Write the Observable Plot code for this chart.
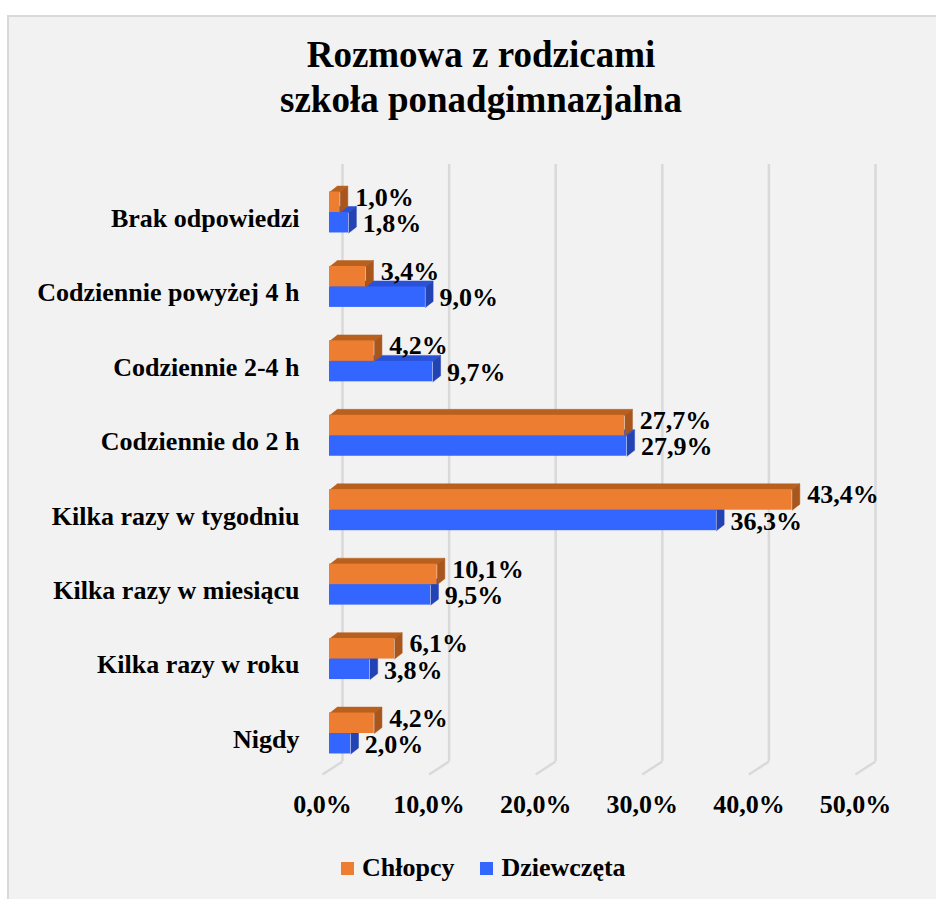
<!DOCTYPE html>
<html>
<head>
<meta charset="utf-8">
<script src="https://cdn.jsdelivr.net/npm/d3@7"></script>
<script src="https://cdn.jsdelivr.net/npm/@observablehq/plot@0.6"></script>
<style>
  html, body { margin: 0; padding: 0; background: #ffffff; }
  body { width: 936px; height: 899px; position: relative; overflow: hidden;
         font-family: "Liberation Serif", "Times New Roman", serif; }
  #panel { position: absolute; left: 7px; top: 15px; width: 940px; height: 900px;
           background: #f2f2f2; border-left: 2px solid #d9d9d9; border-top: 2px solid #d9d9d9; box-sizing: border-box; }
  #title { position: absolute; left: 26px; width: 910px; top: 32px; text-align: center;
           font-size: 37px; line-height: 45px; font-weight: bold; color: #000; }
  #chart { position: absolute; left: 0; top: 130px; }
  #legend { position: absolute; left: 341px; top: 850px; display: flex; align-items: center;
            font-size: 26px; font-weight: bold; color: #000; height: 36px; }
  .sw { display: inline-block; width: 13px; height: 13px; margin-right: 8px; }
  .item { display: flex; align-items: center; margin-right: 26px; }
</style>
</head>
<body>
<div id="panel"></div>
<div id="title">Rozmowa z rodzicami<br>szkoła ponadgimnazjalna</div>
<div id="chart"></div>
<div id="legend"></div>
<script>
// ---- data ----
const categories = ["Brak odpowiedzi", "Codziennie powyżej 4 h", "Codziennie 2-4 h", "Codziennie do 2 h",
                    "Kilka razy w tygodniu", "Kilka razy w miesiącu", "Kilka razy w roku", "Nigdy"];
const chlopcy    = [1.0, 3.4, 4.2, 27.7, 43.4, 10.1, 6.1, 4.2];
const dziewczeta = [1.8, 9.0, 9.7, 27.9, 36.3, 9.5, 3.8, 2.0];
const xTicks = [0, 10, 20, 30, 40, 50];
const seriesNames = ["Chłopcy", "Dziewczęta"];
const seriesColors = {
  "Chłopcy":    {front: "#ED7D31", top: "#B9601F", side: "#A9561C"},
  "Dziewczęta": {front: "#3366FF", top: "#2A52D9", side: "#2343B5"}
};

// ---- 3D geometry (data units) ----
const H = 0.275;      // bar thickness (category units)
const DX = 0.72;      // bar depth along x (percent units)
const DY = 0.08;      // bar depth along y (category units)
const WALL_DX = 1.22, FLOOR_DX = -0.66;
const WALL_TOP = -0.645, WALL_BOTTOM = 7.376, FLOOR_FRONT = 7.55;

const fmt = v => v.toFixed(1).replace(".", ",") + "%";

// bars: blue (lower) first, orange (upper) drawn over it
const bars = [];
categories.forEach((c, i) => {
  bars.push({i, s: "Dziewczęta", v: dziewczeta[i], y1: i, y2: i + H});
});
categories.forEach((c, i) => {
  bars.push({i, s: "Chłopcy", v: chlopcy[i], y1: i - H, y2: i});
});

function topPoly(b, k) {
  return [
    {id: k, x: 0, y: b.y1}, {id: k, x: b.v, y: b.y1},
    {id: k, x: b.v + DX, y: b.y1 - DY}, {id: k, x: DX, y: b.y1 - DY}
  ];
}
function sidePoly(b, k) {
  return [
    {id: k, x: b.v, y: b.y1}, {id: k, x: b.v + DX, y: b.y1 - DY},
    {id: k, x: b.v + DX, y: b.y2 - DY}, {id: k, x: b.v, y: b.y2}
  ];
}

const marks = [];
// back wall gridlines + floor slant
marks.push(Plot.ruleX(xTicks, {x: d => d + WALL_DX, y1: WALL_TOP, y2: WALL_BOTTOM, stroke: "#d9d9d9", strokeWidth: 2.5}));
marks.push(Plot.link(xTicks, {x1: d => d + WALL_DX, y1: WALL_BOTTOM, x2: d => d + FLOOR_DX, y2: FLOOR_FRONT, stroke: "#d9d9d9", strokeWidth: 2.5}));

for (const s of ["Dziewczęta", "Chłopcy"]) {
  const bs = bars.filter(b => b.s === s);
  const col = seriesColors[s];
  marks.push(Plot.line(bs.flatMap((b, k) => topPoly(b, k)), {x: "x", y: "y", z: "id", fill: col.top, stroke: col.top, strokeWidth: 0.5}));
  marks.push(Plot.rect(bs, {x1: 0, x2: "v", y1: "y1", y2: "y2", fill: col.front}));
  marks.push(Plot.line(bs.flatMap((b, k) => sidePoly(b, k)), {x: "x", y: "y", z: "id", fill: col.side, stroke: col.side, strokeWidth: 0.5}));
}

// value labels
marks.push(Plot.text(bars.filter(b => b.s === "Dziewczęta"), {
  x: "v", y: b => (b.y1 + b.y2) / 2, text: b => fmt(b.v), textAnchor: "start", dx: 14, dy: 1,
  fontSize: 26, fontWeight: "bold", fill: "#000"
}));
marks.push(Plot.text(bars.filter(b => b.s === "Chłopcy"), {
  x: "v", y: b => (b.y1 + b.y2) / 2, text: b => fmt(b.v), textAnchor: "start", dx: 15, dy: -5,
  fontSize: 26, fontWeight: "bold", fill: "#000"
}));

// axes
marks.push(Plot.axisY({ticks: categories.map((_, i) => i), tickFormat: i => categories[i],
  tickSize: 0, tickPadding: 2, dy: 6, fontSize: 26, fontWeight: "bold", label: null, anchor: "left"}));
marks.push(Plot.axisX({ticks: xTicks, tickFormat: fmt, tickSize: 0, tickPadding: 0, dx: -7,
  fontSize: 26, fontWeight: "bold", label: null, anchor: "bottom"}));

const chart = Plot.plot({
  width: 936,
  height: 720,
  marginLeft: 301,
  marginRight: 10,
  marginTop: 10,
  marginBottom: 55.5,
  x: {type: "linear", domain: [0, 50], range: [329, 862]},
  y: {type: "linear", domain: [0, 7], range: [82, 603]},
  style: {
    background: "transparent",
    fontFamily: "'Liberation Serif', 'Times New Roman', serif",
    fontWeight: "bold",
    fontSize: "26px",
    color: "#000",
    overflow: "visible"
  },
  marks
});
document.getElementById("chart").appendChild(chart);

// legend
const legend = document.getElementById("legend");
seriesNames.forEach(name => {
  const item = document.createElement("div");
  item.className = "item";
  const sw = document.createElement("span");
  sw.className = "sw";
  sw.style.background = seriesColors[name].front;
  const t = document.createElement("span");
  t.textContent = name;
  item.appendChild(sw);
  item.appendChild(t);
  legend.appendChild(item);
});
</script>
</body>
</html>
